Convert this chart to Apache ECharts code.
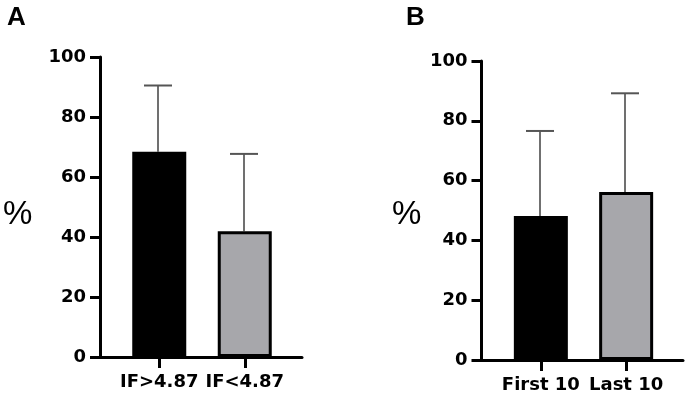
<!DOCTYPE html>
<html>
<head>
<meta charset="utf-8">
<style>html,body{margin:0;padding:0;background:#fff;}#c{width:694px;height:410px;}</style>
<script src="https://cdn.jsdelivr.net/npm/echarts@6/dist/echarts.min.js"></script>
</head>
<body>
<div id="c"></div>
<script>
// ---- data ----
var categoriesA = ['IF>4.87', 'IF<4.87'];
var meansA = [68.4, 41.9];
var upperA = [90.5, 67.7];
var categoriesB = ['First 10', 'Last 10'];
var meansB = [48.2, 56.2];
var upperB = [76.6, 89.2];
var yTicks = [0, 20, 40, 60, 80, 100];
var barColors = ['#000000', '#a7a7ab'];

var chart = echarts.init(document.getElementById('c'), null, {renderer: 'canvas'});
var labelFont = {fontFamily: 'DejaVu Sans', fontWeight: 'bold', fontSize: 18, color: '#000'};

function frameGrid(left, top, width, height) {
  return {left: left, top: top, width: width, height: height, containLabel: false};
}

var grids = [
  frameGrid(100, 57, 202, 300),     // A frame
  frameGrid(116.5, 57, 171, 300),   // A data
  frameGrid(481.5, 61, 201.5, 299), // B frame
  frameGrid(498.2, 61, 170.6, 299)  // B data
];

function frameX(gi) {
  return {gridIndex: gi, type: 'value', min: 0, max: 1,
    axisLine: {show: true, lineStyle: {color: '#000', width: 3}},
    axisTick: {show: false}, axisLabel: {show: false}, splitLine: {show: false}};
}
function frameY(gi) {
  return {gridIndex: gi, type: 'value', min: yTicks[0], max: yTicks[yTicks.length - 1], interval: yTicks[1] - yTicks[0],
    axisLine: {show: true, lineStyle: {color: '#000', width: 3}},
    axisTick: {show: true, length: 10, lineStyle: {color: '#000', width: 3}},
    axisLabel: Object.assign({margin: 14}, labelFont),
    splitLine: {show: false}};
}
function dataX(gi, cats) {
  return {gridIndex: gi, type: 'category', data: cats, boundaryGap: true,
    axisLine: {show: false},
    axisTick: {show: true, alignWithLabel: true, length: 11, lineStyle: {color: '#000', width: 3}},
    axisLabel: Object.assign({margin: 16, interval: 0}, labelFont)};
}
function dataY(gi) {
  return {gridIndex: gi, type: 'value', min: 0, max: 100, show: false};
}

function barSeries(xi, means) {
  return {type: 'bar', xAxisIndex: xi, yAxisIndex: xi, barWidth: 54, z: 3,
    data: means.map(function (v, i) {
      return {value: v, itemStyle: {color: barColors[i], borderColor: '#000', borderWidth: 3}};
    })};
}
function errSeries(xi, means, upper) {
  return {type: 'custom', xAxisIndex: xi, yAxisIndex: xi, z: 2,
    data: means.map(function (m, i) { return [i, m, upper[i]]; }),
    renderItem: function (params, api) {
      var base = api.coord([api.value(0), api.value(1)]);
      var top = api.coord([api.value(0), api.value(2)]);
      var x = Math.round(base[0]) - 1;
      var hw = 14;
      return {type: 'group', children: [
        {type: 'line', shape: {x1: x, y1: base[1], x2: x, y2: top[1]}, style: {stroke: '#707070', lineWidth: 2}},
        {type: 'line', shape: {x1: x - hw, y1: top[1], x2: x + hw, y2: top[1]}, style: {stroke: '#555', lineWidth: 2}}
      ]};
    }};
}

var option = {
  backgroundColor: '#fff',
  animation: false,
  grid: grids,
  xAxis: [frameX(0), dataX(1, categoriesA), frameX(2), dataX(3, categoriesB)],
  yAxis: [frameY(0), dataY(1), frameY(2), dataY(3)],
  series: [
    errSeries(1, meansA, upperA),
    barSeries(1, meansA),
    errSeries(3, meansB, upperB),
    barSeries(3, meansB)
  ],
  graphic: [
    {type: 'text', left: 7, top: 5, style: {text: 'A', font: 'bold 26px "Liberation Sans", Arial, sans-serif', fill: '#000'}},
    {type: 'text', left: 406, top: 5, style: {text: 'B', font: 'bold 26px "Liberation Sans", Arial, sans-serif', fill: '#000'}},
    {type: 'text', left: 3, top: 198, style: {text: '%', font: '33px "Liberation Sans", Arial, sans-serif', fill: '#000'}},
    {type: 'text', left: 392, top: 198, style: {text: '%', font: '33px "Liberation Sans", Arial, sans-serif', fill: '#000'}}
  ]
};
chart.setOption(option);
</script>
</body>
</html>
